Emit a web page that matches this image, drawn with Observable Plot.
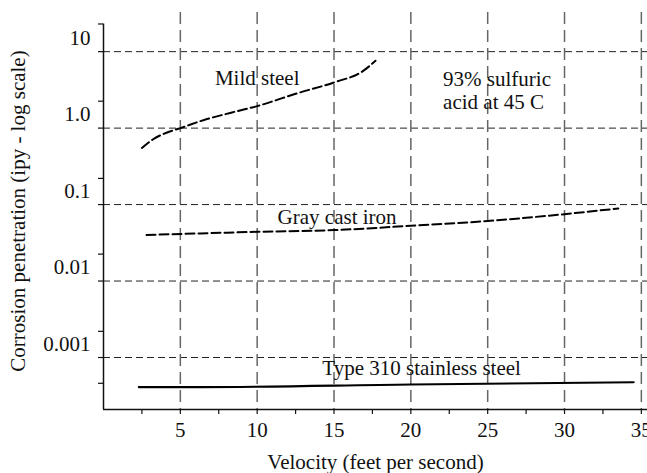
<!DOCTYPE html>
<html>
<head>
<meta charset="utf-8">
<script src="https://cdn.jsdelivr.net/npm/d3@7"></script>
<script src="https://cdn.jsdelivr.net/npm/@observablehq/plot@0.6"></script>
<style>
  html, body { margin: 0; padding: 0; background: #fff; }
  #chart svg { display: block; }
</style>
</head>
<body>
<div id="chart"></div>
<script>
// ---- data ----
const mildVelocity   = [2.5, 3.3, 4.1, 5.0, 6.5, 8.3, 10.0, 12.6, 15.0, 16.9, 17.7];
const mildPenetration = [0.55, 0.73, 0.87, 1.0, 1.27, 1.59, 1.94, 2.85, 3.96, 5.6, 7.6];

const grayVelocity   = [2.8, 6.3, 10, 15, 20, 25, 30, 33.5];
const grayPenetration = [0.040, 0.042, 0.044, 0.0464, 0.0528, 0.061, 0.075, 0.089];

const ssVelocity     = [2.3, 6.3, 20, 34.5];
const ssPenetration  = [0.00041, 0.00041, 0.000444, 0.000475];

// axis ticks and labels
const xMajorTicks = [5, 10, 15, 20, 25, 30, 35];
const xMinorTicks = [2.5, 7.5, 12.5, 17.5, 22.5, 27.5, 32.5];
const yDecades    = [10, 1, 0.1, 0.01, 0.001];
const yMinorTicks = [23, 2.25, 0.22, 0.0225, 0.0022, 0.00046];
const yLabelValues = [15, 1.5, 0.15, 0.015, 0.0015];
const yLabelTexts  = ["10", "1.0", "0.1", "0.01", "0.001"];

// annotations
const noteTexts = ["Mild steel", "Gray cast iron", "Type 310 stainless steel"];
const noteX     = [10.0, 15.2, 20.7];
const noteY     = [4.5, 0.068, 0.00072];
const conditionText = "93% sulfuric\nacid at 45 C";
const conditionX = 22.1;
const conditionY = 3.15;

// ---- build tables ----
const toRows = (xs, ys) => xs.map((v, i) => ({v, p: ys[i]}));
const mild = toRows(mildVelocity, mildPenetration);
const gray = toRows(grayVelocity, grayPenetration);
const ss = toRows(ssVelocity, ssPenetration);
const notes = noteTexts.map((t, i) => ({t, v: noteX[i], p: noteY[i]}));
const labelMap = new Map(yLabelValues.map((v, i) => [v, yLabelTexts[i]]));

const yMin = 0.000209, yMax = 32.5, xMax = 35.4;

const font = "'Liberation Serif', 'DejaVu Serif', serif";

const chart = Plot.plot({
  width: 647,
  height: 473,
  marginLeft: 103,
  marginRight: 0,
  marginTop: 12,
  marginBottom: 64,
  style: {fontFamily: font, fontSize: "21px", color: "#111", background: "#fff"},
  x: {domain: [0, xMax], axis: null},
  y: {type: "log", domain: [yMin, yMax], axis: null},
  marks: [
    // dashed grid
    Plot.ruleY(yDecades, {stroke: "#222", strokeWidth: 1, strokeDasharray: "7,4"}),
    Plot.ruleX(xMajorTicks, {stroke: "#666", strokeWidth: 1.5, strokeDasharray: "12,6"}),
    // axis lines
    Plot.ruleX([0], {y1: yMin, y2: yMinorTicks[0], stroke: "#111", strokeWidth: 1.5}),
    Plot.ruleY([yMin], {stroke: "#111", strokeWidth: 1.5}),
    // y ticks (no labels)
    Plot.axisY(yDecades.concat(yMinorTicks), {tickSize: 5, strokeWidth: 1.2, stroke: "#111", tickFormat: () => "", label: null}),
    // y labels
    Plot.axisY(yLabelValues, {tickSize: 0, tickPadding: 13, tickFormat: d => labelMap.get(d),
      fontSize: 21, fill: "#111",
      label: "Corrosion penetration (ipy - log scale)", labelAnchor: "center", labelOffset: 93, labelArrow: "none"}),
    // x ticks
    Plot.axisX(xMinorTicks, {tickSize: 5, strokeWidth: 1.2, stroke: "#111", tickFormat: () => "", label: null}),
    Plot.axisX(xMajorTicks, {tickSize: 5, strokeWidth: 1.2, stroke: "#111", tickPadding: 8, tickFormat: d => String(d),
      fontSize: 21, fill: "#111",
      label: "Velocity (feet per second)", labelAnchor: "center", labelOffset: 59, labelArrow: "none"}),
    // curves
    Plot.line(mild, {x: "v", y: "p", stroke: "#000", strokeWidth: 2, strokeDasharray: "9,4", curve: "monotone-x"}),
    Plot.line(gray, {x: "v", y: "p", stroke: "#000", strokeWidth: 2, strokeDasharray: "9,4", curve: "monotone-x"}),
    Plot.line(ss, {x: "v", y: "p", stroke: "#000", strokeWidth: 2.2, curve: "monotone-x"}),
    // annotations
    Plot.text(notes, {x: "v", y: "p", text: "t", fontSize: 21, fill: "#111"}),
    Plot.text([conditionText], {x: () => conditionX, y: () => conditionY, text: d => d, textAnchor: "start",
      fontSize: 21, fill: "#111", lineHeight: 1.13})
  ]
});

document.getElementById("chart").appendChild(chart);
</script>
</body>
</html>
